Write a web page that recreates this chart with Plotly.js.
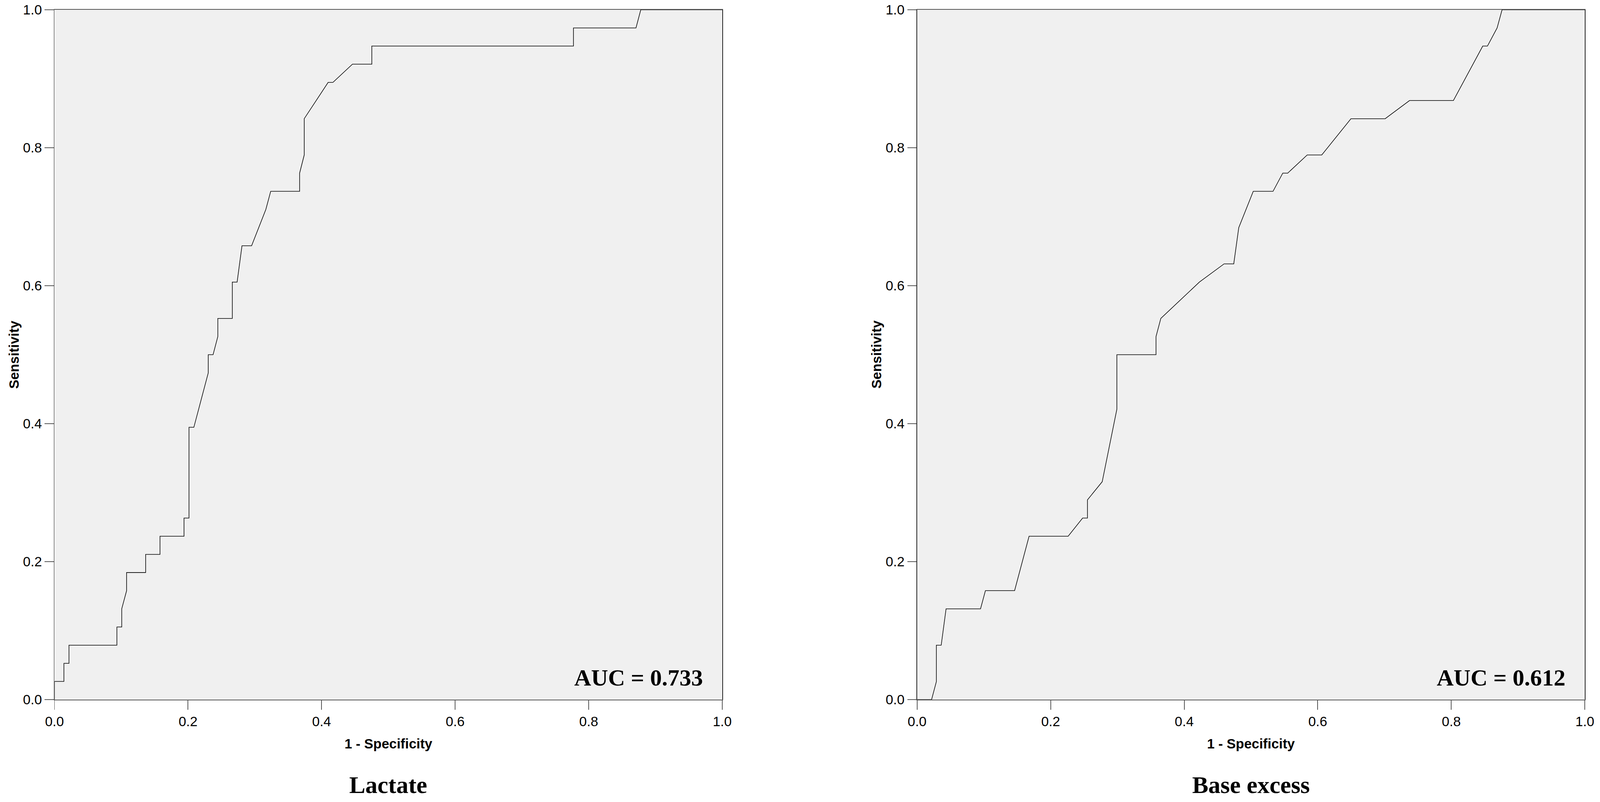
<!DOCTYPE html>
<html>
<head>
<meta charset="utf-8">
<script src="https://cdn.plot.ly/plotly-3.0.1.min.js"></script>
<style>html,body{margin:0;padding:0;background:#fff;overflow:hidden;}#chart{position:absolute;left:0;top:0;}</style>
</head>
<body>
<div id="chart"></div>
<script>
// ROC curve for Lactate (1 - Specificity, Sensitivity)
const lactateFpr = [0, 0, 0.0141, 0.0141, 0.0217, 0.0217, 0.0935, 0.0935, 0.1007, 0.1007, 0.108, 0.108, 0.1365, 0.1365, 0.158, 0.158, 0.194, 0.194, 0.2014, 0.2014, 0.2087, 0.2303, 0.2303, 0.2375, 0.2446, 0.2446, 0.2663, 0.2663, 0.2735, 0.2808, 0.2952, 0.3165, 0.3238, 0.3671, 0.3671, 0.374, 0.374, 0.4098, 0.417, 0.4462, 0.4752, 0.4752, 0.7772, 0.7772, 0.8708, 0.878, 1];
const lactateTpr = [0, 0.0263, 0.0263, 0.0526, 0.0526, 0.0789, 0.0789, 0.1053, 0.1053, 0.1316, 0.1579, 0.1842, 0.1842, 0.2105, 0.2105, 0.2368, 0.2368, 0.2632, 0.2632, 0.3947, 0.3947, 0.4737, 0.5, 0.5, 0.5263, 0.5526, 0.5526, 0.6053, 0.6053, 0.6579, 0.6579, 0.7105, 0.7368, 0.7368, 0.7632, 0.7895, 0.8421, 0.8947, 0.8947, 0.9211, 0.9211, 0.9474, 0.9474, 0.9737, 0.9737, 1, 1];

// ROC curve for Base excess
const baseFpr = [0, 0.0217, 0.0289, 0.0289, 0.0361, 0.0434, 0.095, 0.1023, 0.146, 0.1677, 0.2262, 0.2479, 0.2551, 0.2551, 0.2772, 0.2992, 0.2992, 0.3578, 0.3578, 0.365, 0.4228, 0.4597, 0.4742, 0.4817, 0.5034, 0.533, 0.5476, 0.555, 0.5842, 0.606, 0.6497, 0.701, 0.7374, 0.8031, 0.8471, 0.8541, 0.8686, 0.876, 1];
const baseTpr = [0, 0, 0.0263, 0.0789, 0.0789, 0.1316, 0.1316, 0.1579, 0.1579, 0.2368, 0.2368, 0.2632, 0.2632, 0.2895, 0.3158, 0.4211, 0.5, 0.5, 0.5263, 0.5526, 0.6053, 0.6316, 0.6316, 0.6842, 0.7368, 0.7368, 0.7632, 0.7632, 0.7895, 0.7895, 0.8421, 0.8421, 0.8684, 0.8684, 0.9474, 0.9474, 0.9737, 1, 1];

const tickVals = [0, 0.2, 0.4, 0.6, 0.8, 1.0];
const tickText = ["0.0", "0.2", "0.4", "0.6", "0.8", "1.0"];
const panelTitles = ["Lactate", "Base excess"];
const aucLabels = ["AUC = 0.733", "AUC = 0.612"];
const xAxisTitle = "1 - Specificity";
const yAxisTitle = "Sensitivity";

const RW = 4229, RH = 2052;
const W = window.innerWidth || RW, H = window.innerHeight || RH;
const sx = W / RW, sy = H / RH, fs = Math.min(sx, sy);
const sans = "Liberation Sans, Arial, sans-serif";
const serif = "Liberation Serif, Times New Roman, serif";

const traces = [
  {x: lactateFpr, y: lactateTpr, xaxis: 'x', yaxis: 'y', mode: 'lines', type: 'scatter',
   line: {color: '#000', width: 1.6 * fs}, cliponaxis: false, showlegend: false, hoverinfo: 'skip'},
  {x: baseFpr, y: baseTpr, xaxis: 'x2', yaxis: 'y2', mode: 'lines', type: 'scatter',
   line: {color: '#000', width: 1.6 * fs}, cliponaxis: false, showlegend: false, hoverinfo: 'skip'}
];

const yBot = 1 - 1790 / RH, yTop = 1 - 25 / RH;
const d1 = [144 / RW, 1909 / RW];
const d2 = [2424 / RW, 4189 / RW];

function xax(domain, anchor) {
  return {domain: domain, anchor: anchor, range: [0, 1], tickvals: tickVals, ticktext: tickText,
    ticks: 'outside', ticklen: 24 * sy, tickwidth: 2 * fs, tickcolor: '#555',
    tickfont: {family: sans, size: 36 * fs, color: '#000'},
    showline: true, linecolor: '#555', linewidth: 2 * fs, mirror: true,
    showgrid: false, zeroline: false, fixedrange: true};
}
function yax(anchor) {
  return {domain: [yBot, yTop], anchor: anchor, range: [0, 1], tickvals: tickVals, ticktext: tickText,
    ticks: 'outside', ticklen: 24 * sx, tickwidth: 2 * fs, tickcolor: '#555',
    tickfont: {family: sans, size: 36 * fs, color: '#000'},
    showline: true, linecolor: '#222', linewidth: 2 * fs, mirror: true,
    showgrid: false, zeroline: false, fixedrange: true};
}

const annotations = [];
[[d1, 'x', 'y'], [d2, 'x2', 'y2']].forEach(function (p, i) {
  const cx = (p[0][0] + p[0][1]) / 2;
  annotations.push({xref: 'paper', yref: 'paper', x: cx, y: 1 - 1902 / RH, text: xAxisTitle,
    showarrow: false, xanchor: 'center', yanchor: 'middle',
    font: {family: sans, size: 36 * fs, color: '#000', weight: 'bold'}});
  annotations.push({xref: 'paper', yref: 'paper', x: p[0][0] - 108 / RW, y: 1 - 907 / RH, text: yAxisTitle,
    textangle: -90, showarrow: false, xanchor: 'center', yanchor: 'middle',
    font: {family: sans, size: 36 * fs, color: '#000', weight: 'bold'}});
  annotations.push({xref: 'paper', yref: 'paper', x: cx, y: 1 - 2008 / RH, text: '<b>' + panelTitles[i] + '</b>',
    showarrow: false, xanchor: 'center', yanchor: 'middle',
    font: {family: serif, size: 64 * fs, color: '#000'}});
  annotations.push({xref: p[1], yref: p[2], x: 0.972, y: 0.032, text: '<b>' + aucLabels[i] + '</b>',
    showarrow: false, xanchor: 'right', yanchor: 'middle',
    font: {family: serif, size: 62 * fs, color: '#000'}});
});

const layout = {
  width: W, height: H, autosize: false,
  margin: {l: 0, r: 0, t: 0, b: 0, pad: 0},
  paper_bgcolor: '#fff', plot_bgcolor: '#f0f0f0',
  xaxis: xax(d1, 'y'), yaxis: yax('x'),
  xaxis2: xax(d2, 'y2'), yaxis2: yax('x2'),
  annotations: annotations,
  showlegend: false
};

Plotly.newPlot('chart', traces, layout, {staticPlot: true, displayModeBar: false});
</script>
</body>
</html>
